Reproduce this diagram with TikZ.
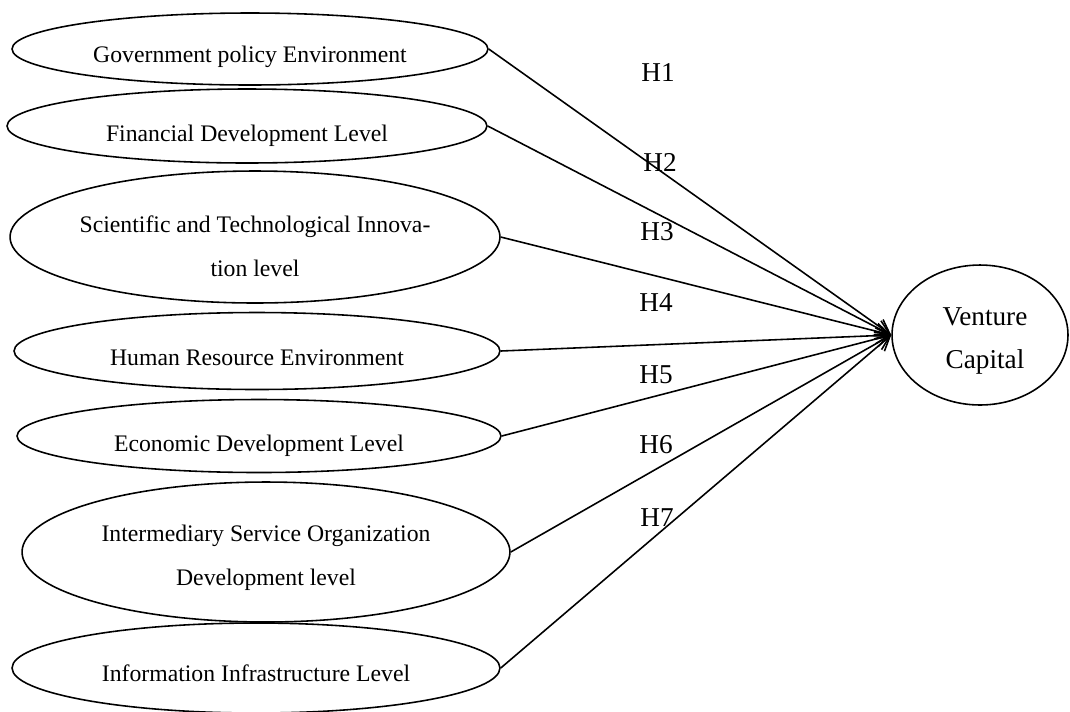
\documentclass[tikz,border=0pt]{standalone}
\usepackage{fontspec}
\setmainfont{Liberation Serif}
\usetikzlibrary{shapes.geometric,arrows.meta,calc}

\begin{document}
\begin{tikzpicture}[x=0.02cm,y=-0.02cm,>={Straight Barb[length=8pt,width=9pt]},line width=0.9pt,
  oval/.style={draw,ellipse,inner sep=0pt},
  txt/.style={font=\fontsize{13.5}{25}\selectfont,align=center},
  hyp/.style={font=\fontsize{15.5}{17}\selectfont}]
  \useasboundingbox (0,0) rectangle (1070,711);

  % 影响因素
  \node[oval,minimum width=9.52cm,minimum height=1.44cm] (gov) at (250,49) {};
  \node[oval,minimum width=9.6cm,minimum height=1.48cm] (fin) at (247,126) {};
  \node[oval,minimum width=9.8cm,minimum height=2.64cm] (sci) at (255,237) {};
  \node[oval,minimum width=9.72cm,minimum height=1.54cm] (hum) at (257,351) {};
  \node[oval,minimum width=9.68cm,minimum height=1.46cm] (eco) at (259,436) {};
  \node[oval,minimum width=9.76cm,minimum height=2.8cm] (int) at (266,552) {};
  \node[oval,minimum width=9.76cm,minimum height=1.8cm] (inf) at (256,668) {};

  % 风险投资
  \node[oval,minimum width=3.52cm,minimum height=2.8cm] (vc) at (980,335) {};

  % 椭圆内文字
  \node[txt] at ($(gov)+(0,8)$) {Government policy Environment};
  \node[txt] at ($(fin)+(0,10)$) {Financial Development Level};
  \node[txt] at ($(sci)+(0,9)$) {Scientific and Technological Innova-\\tion level};
  \node[txt] at ($(hum)+(0,7)$) {Human Resource Environment};
  \node[txt] at ($(eco)+(0,10)$) {Economic Development Level};
  \node[txt] at ($(int)+(0,6)$) {Intermediary Service Organization\\Development level};
  \node[txt] at ($(inf)+(0,5)$) {Information Infrastructure Level};
  \node[txt,font=\fontsize{15.5}{24}\selectfont] at ($(vc)+(5,6)$) {Venture\\Capital};

  % 箭头
  \foreach \n in {gov,fin,sci,hum,eco,int,inf}
    \draw[->] (\n.east) -- (vc.west);

  % 假设标注
  \node[hyp] at (658,73) {H1};
  \node[hyp] at (660,162) {H2};
  \node[hyp] at (657,232) {H3};
  \node[hyp] at (656,303) {H4};
  \node[hyp] at (656,375) {H5};
  \node[hyp] at (656,445) {H6};
  \node[hyp] at (657,518) {H7};
\end{tikzpicture}
\end{document}
